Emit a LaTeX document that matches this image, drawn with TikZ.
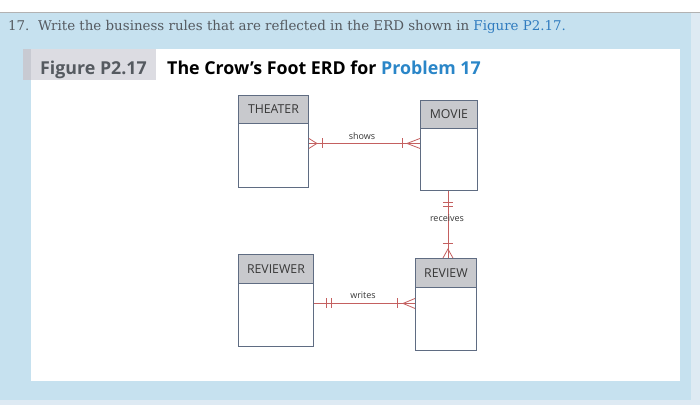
\documentclass[tikz,border=0pt]{standalone}
\usepackage{fontspec}
\setmainfont{DejaVu Serif}
\newfontfamily\osans{Open Sans}
\usetikzlibrary{calc}
\definecolor{panelblue}{RGB}{198,225,239}
\definecolor{edgeblue}{RGB}{222,234,243}
\definecolor{qgray}{RGB}{85,90,96}
\definecolor{linkblue}{RGB}{47,123,191}
\definecolor{titleblue}{RGB}{42,134,200}
\definecolor{boxgray}{RGB}{220,220,226}
\definecolor{boxgraydark}{RGB}{200,202,210}
\definecolor{entline}{RGB}{95,108,130}
\definecolor{headfill}{RGB}{200,201,205}
\definecolor{relred}{RGB}{196,96,96}
\definecolor{txtgray}{RGB}{55,55,55}
\tikzset{
  entity/.style={draw=entline, line width=0.9pt, fill=white, inner sep=0pt},
  header/.style={draw=entline, line width=0.9pt, fill=headfill, inner sep=0pt,
    font=\osans\fontsize{12.3}{13}\selectfont, text=txtgray},
  rel/.style={draw=relred, line width=0.8pt},
  rellabel/.style={font=\osans\fontsize{9}{10}\selectfont, text=txtgray, inner sep=0pt}
}
\begin{document}
\begin{tikzpicture}[x=1pt,y=-1pt]
\useasboundingbox (0,0) rectangle (700,416);
% backgrounds
\fill[white] (0,0) rectangle (700,416);
\fill[edgeblue] (0,12) rectangle (700,405);
\fill[panelblue] (0,12) rectangle (691,400);
\draw[gray!60, line width=0.6pt] (0,12) -- (700,12);
\fill[white] (31,49) rectangle (680,381);
\fill[boxgray] (23,49) rectangle (156,80);
\fill[boxgraydark] (23,49) rectangle (31,80);
% question text
\node[anchor=base west, inner sep=0pt, text=qgray, font=\fontsize{13.4}{15}\selectfont] (q) at (8,30)
  {17.\ \ Write the business rules that are reflected in the ERD shown in \textcolor{linkblue}{Figure P2.17.}};
% title
\node[anchor=base west, inner sep=0pt, text=qgray, font=\osans\bfseries\fontsize{17.8}{19}\selectfont] (fig) at (40,74) {Figure P2.17};
\node[anchor=base west, inner sep=0pt, text=black, font=\osans\bfseries\fontsize{17.8}{19}\selectfont] (ttl) at (167,74)
  {The Crow’s Foot ERD for \textcolor{titleblue}{Problem 17}};
% entities
\node[entity, minimum width=70pt, minimum height=92pt, anchor=north west] (theater) at (238,95) {};
\node[header, minimum width=70pt, minimum height=28pt, anchor=north west] (theaterh) at (238,95) {THEATER};
\node[entity, minimum width=57pt, minimum height=90pt, anchor=north west] (movie) at (420,100) {};
\node[header, minimum width=57pt, minimum height=28pt, anchor=north west] (movieh) at (420,100) {MOVIE};
\node[entity, minimum width=75pt, minimum height=92pt, anchor=north west] (reviewer) at (238,254) {};
\node[header, minimum width=75pt, minimum height=29pt, anchor=north west] (reviewerh) at (238,254) {REVIEWER};
\node[entity, minimum width=61pt, minimum height=92pt, anchor=north west] (review) at (415,258) {};
\node[header, minimum width=61pt, minimum height=29pt, anchor=north west] (reviewh) at (415,258) {REVIEW};
% shows
\coordinate (sA) at ($(theater.east)+(0,2)$);
\coordinate (sB) at (sA -| movie.west);
\draw[rel] (sA) -- (sB);
\draw[rel] ($(sA)+(0,-5)$) -- ($(sA)+(8,0)$) -- ($(sA)+(0,5)$);
\draw[rel] ($(sA)+(13,-5)$) -- ($(sA)+(13,5)$);
\draw[rel] ($(sB)+(0,-5)$) -- ($(sB)+(-13,0)$) -- ($(sB)+(0,5)$);
\draw[rel] ($(sB)+(-18,-5)$) -- ($(sB)+(-18,5)$);
\node[rellabel] (showsl) at (362,136) {shows};
% receives
\coordinate (rA) at ($(movie.south)+(-1,0)$);
\coordinate (rB) at (rA |- review.north);
\draw[rel] (rA) -- (rB);
\draw[rel] ($(rA)+(-5,11)$) -- ($(rA)+(5,11)$);
\draw[rel] ($(rA)+(-5,15)$) -- ($(rA)+(5,15)$);
\draw[rel] ($(rB)+(-5,0)$) -- ($(rB)+(0,-9)$) -- ($(rB)+(5,0)$);
\draw[rel] ($(rB)+(-5,-15)$) -- ($(rB)+(5,-15)$);
\node[rellabel] (recl) at (447,218) {receives};
% writes
\coordinate (wA) at ($(reviewer.east)+(0,3)$);
\coordinate (wB) at (wA -| review.west);
\draw[rel] (wA) -- (wB);
\draw[rel] ($(wA)+(12,-5)$) -- ($(wA)+(12,5)$);
\draw[rel] ($(wA)+(17,-5)$) -- ($(wA)+(17,5)$);
\draw[rel] ($(wB)+(0,-5)$) -- ($(wB)+(-12,0)$) -- ($(wB)+(0,5)$);
\draw[rel] ($(wB)+(-18,-5)$) -- ($(wB)+(-18,5)$);
\node[rellabel] (writesl) at (363,295) {writes};
\end{tikzpicture}
\end{document}
